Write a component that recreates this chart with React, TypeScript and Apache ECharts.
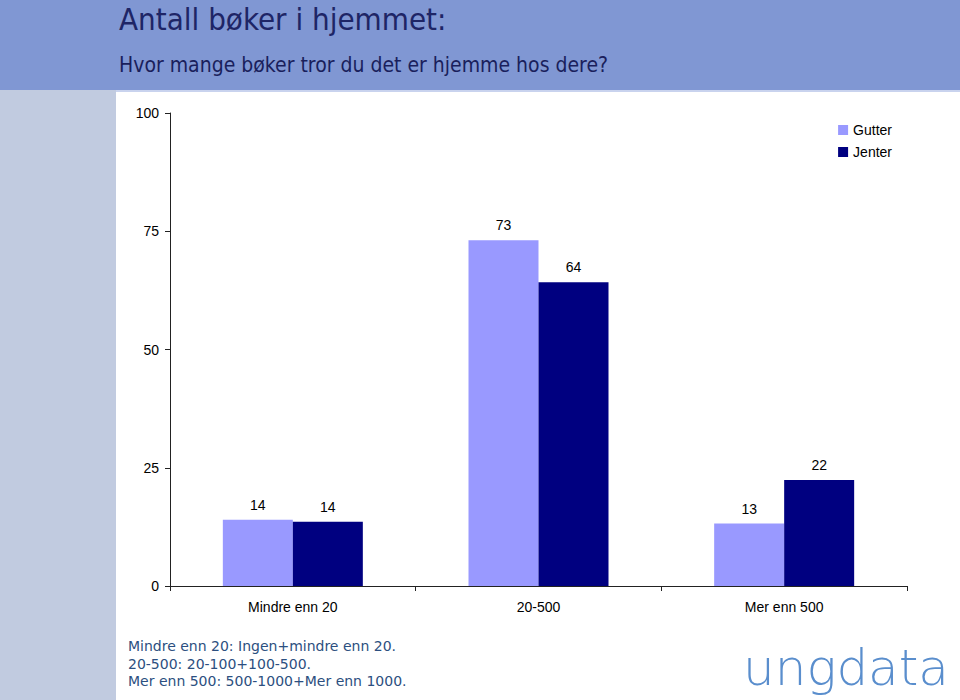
import React, { useEffect, useRef } from "react";
import * as echarts from "echarts";

const categories = ["Mindre enn 20", "20-500", "Mer enn 500"];
const gutterValues = [14.0, 73.1, 13.2];
const jenterValues = [13.6, 64.2, 22.4];
const seriesNames = ["Gutter", "Jenter"];
const yTicks = { min: 0, max: 100, interval: 25 };
const titleText = "Antall bøker i hjemmet:";
const subtitleText = "Hvor mange bøker tror du det er hjemme hos dere?";
const footnotes = [
  "Mindre enn 20: Ingen+mindre enn 20.",
  "20-500: 20-100+100-500.",
  "Mer enn 500: 500-1000+Mer enn 1000.",
];
const logoText = "ungdata";

export default function App() {
  const ref = useRef<HTMLDivElement>(null);
  useEffect(() => {
    if (!ref.current) return;
    const chart = echarts.init(ref.current, null, { renderer: "svg" });
    const labelStyle = {
      show: true,
      position: "top" as const,
      distance: 8,
      color: "#000",
      fontSize: 14,
      fontFamily: "Liberation Sans, Arial, sans-serif",
      formatter: (p: any) => String(Math.round(p.value)),
    };
    chart.setOption({
      animation: false,
      backgroundColor: "#fff",
      graphic: [
        { type: "rect", z: -10, shape: { x: 0, y: 0, width: 960, height: 90 }, style: { fill: "#8097d3" } },
        { type: "rect", z: -10, shape: { x: 0, y: 90, width: 960, height: 2 }, style: { fill: "#c9d3ee" } },
        { type: "rect", z: -10, shape: { x: 0, y: 90, width: 116, height: 610 }, style: { fill: "#c1cbe0" } },
        {
          type: "text",
          x: 119,
          y: 19,
          style: {
            text: titleText,
            fill: "#1e2566",
            fontSize: 31,
            fontFamily: "DejaVu Sans Condensed, DejaVu Sans, sans-serif",
            verticalAlign: "middle",
          },
        },
        {
          type: "text",
          x: 119,
          y: 65,
          style: {
            text: subtitleText,
            fill: "#1a1f5c",
            fontSize: 21,
            fontFamily: "DejaVu Sans Condensed, DejaVu Sans, sans-serif",
            verticalAlign: "middle",
          },
        },
        ...footnotes.map((t, i) => ({
          type: "text",
          x: 128,
          y: 646 + i * 17.5,
          style: {
            text: t,
            fill: "#2c4f80",
            fontSize: 14,
            fontFamily: "DejaVu Sans, Verdana, sans-serif",
            verticalAlign: "middle",
          },
        })),
        {
          type: "text",
          x: 743,
          y: 668,
          style: {
            text: logoText,
            fill: "#5a8ecd",
            fontSize: 50,
            fontWeight: 200,
            fontFamily: "DejaVu Sans, sans-serif",
            verticalAlign: "middle",
          },
        },
      ],
      legend: {
        right: 63,
        top: 118,
        orient: "vertical",
        itemWidth: 10,
        itemHeight: 10,
        itemGap: 8,
        icon: "rect",
        textStyle: { fontSize: 14, color: "#000", fontFamily: "Liberation Sans, Arial, sans-serif" },
        data: seriesNames,
      },
      grid: { left: 170, right: 53, top: 113, bottom: 114, containLabel: false },
      xAxis: {
        type: "category",
        data: categories,
        axisLine: { lineStyle: { color: "#222", width: 1 } },
        axisTick: { show: true, length: 5, alignWithLabel: false, lineStyle: { color: "#222" } },
        axisLabel: { fontSize: 14, color: "#000", margin: 14, fontFamily: "Liberation Sans, Arial, sans-serif" },
      },
      yAxis: {
        type: "value",
        min: yTicks.min,
        max: yTicks.max,
        interval: yTicks.interval,
        splitLine: { show: false },
        axisLine: { show: true, lineStyle: { color: "#222", width: 1 } },
        axisTick: { show: true, length: 5, lineStyle: { color: "#222" } },
        axisLabel: { fontSize: 14, color: "#000", margin: 11, fontFamily: "Liberation Sans, Arial, sans-serif" },
      },
      series: [
        {
          name: seriesNames[0],
          type: "bar",
          data: gutterValues,
          barWidth: 70,
          barGap: "0%",
          itemStyle: { color: "#9999ff" },
          label: labelStyle,
        },
        {
          name: seriesNames[1],
          type: "bar",
          data: jenterValues,
          barWidth: 70,
          barGap: "0%",
          itemStyle: { color: "#000080" },
          label: labelStyle,
        },
      ],
    });
    return () => chart.dispose();
  }, []);
  return (
    <div
      ref={ref}
      style={{ position: "fixed", left: 0, top: 0, width: 960, height: 700 }}
    />
  );
}
